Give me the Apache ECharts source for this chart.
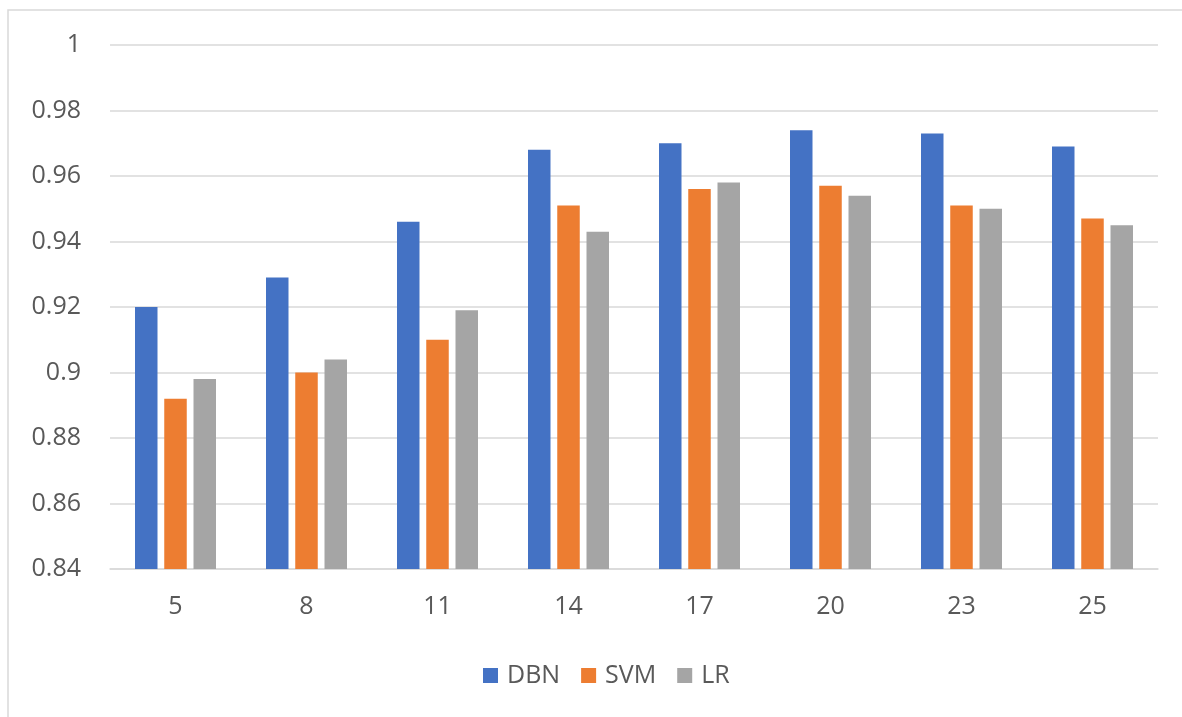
<!DOCTYPE html>
<html>
<head>
<meta charset="utf-8">
<script src="https://cdn.jsdelivr.net/npm/echarts@6/dist/echarts.min.js"></script>
<style>
html,body{margin:0;padding:0;background:#fff;}
#chart{width:1182px;height:717px;}
</style>
</head>
<body>
<div id="chart"></div>
<script>
const categories = ['5', '8', '11', '14', '17', '20', '23', '25'];
const dbn = [0.920, 0.929, 0.946, 0.968, 0.970, 0.974, 0.973, 0.969];
const svm = [0.892, 0.900, 0.910, 0.951, 0.956, 0.957, 0.951, 0.947];
const lr  = [0.898, 0.904, 0.919, 0.943, 0.958, 0.954, 0.950, 0.945];
const seriesNames = ['DBN', 'SVM', 'LR'];
const colors = ['#4472C4', '#ED7D31', '#A5A5A5'];

const font = '"Open Sans", "Noto Sans", sans-serif';
const chart = echarts.init(document.getElementById('chart'), null, {renderer: 'canvas'});
const values = [dbn, svm, lr];
chart.setOption({
  animation: false,
  backgroundColor: '#ffffff',
  color: colors,
  graphic: [{
    type: 'rect',
    shape: {x: 8, y: 10, width: 1400, height: 900},
    style: {fill: 'none', stroke: '#d9d9d9', lineWidth: 1.5},
    silent: true
  }],
  grid: {left: 110, right: 24, top: 45, bottom: 148},
  legend: {
    data: seriesNames,
    bottom: 24,
    left: 478,
    icon: 'rect',
    itemWidth: 15,
    itemHeight: 15,
    itemGap: 21,
    textStyle: {color: '#595959', fontSize: 25, fontFamily: font, padding: [0, 0, 0, 4]}
  },
  xAxis: {
    type: 'category',
    data: categories,
    axisLine: {lineStyle: {color: '#d9d9d9', width: 1.5}},
    axisTick: {show: false},
    axisLabel: {color: '#595959', fontSize: 25, fontFamily: font, margin: 25}
  },
  yAxis: {
    type: 'value',
    min: 0.84,
    max: 1,
    interval: 0.02,
    axisLine: {show: false},
    axisTick: {show: false},
    splitLine: {lineStyle: {color: '#d9d9d9', width: 1.5}},
    axisLabel: {
      color: '#595959', fontSize: 25, fontFamily: font, margin: 29,
      formatter: function (v) { return String(parseFloat(v.toFixed(2))); }
    }
  },
  series: seriesNames.map((n, i) => ({
    name: n,
    type: 'bar',
    data: values[i],
    barWidth: 22.5,
    barGap: '30%',
    itemStyle: {color: colors[i]}
  }))
});
</script>
</body>
</html>
